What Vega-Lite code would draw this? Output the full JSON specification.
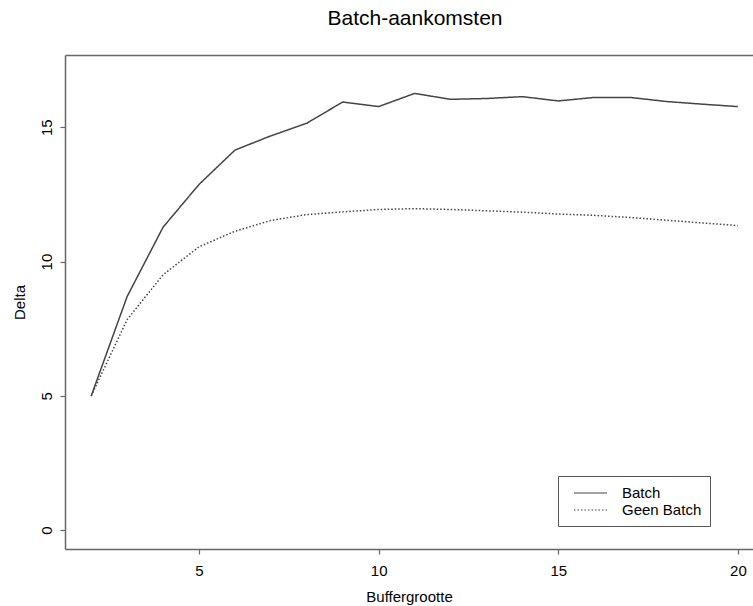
{
  "$schema": "https://vega.github.io/schema/vega-lite/v6.json",
  "autosize": {"type": "none"},
  "padding": {"left": 65, "top": 55, "right": 0, "bottom": 57},
  "width": 688,
  "height": 494,
  "background": "white",
  "config": {
    "font": "Liberation Sans",
    "view": {"stroke": null},
    "axis": {"grid": false, "domainColor": "#666", "domainWidth": 1.5, "tickColor": "#666", "tickWidth": 1.2, "tickSize": 5, "labelColor": "#000", "titleColor": "#000", "labelFont": "Liberation Sans", "titleFont": "Liberation Sans", "labelFontSize": 15, "titleFontSize": 15, "titleFontWeight": "normal"}
  },
  "title": {"text": "Batch-aankomsten", "fontSize": 21, "fontWeight": "normal", "color": "#000", "font": "Liberation Sans", "anchor": "middle", "baseline": "alphabetic", "offset": 9, "dx": 6},
  "data": {"values": [
    {"x": 2, "delta": 5.0, "serie": "Batch"},
    {"x": 3, "delta": 8.7, "serie": "Batch"},
    {"x": 4, "delta": 11.28, "serie": "Batch"},
    {"x": 5, "delta": 12.87, "serie": "Batch"},
    {"x": 6, "delta": 14.15, "serie": "Batch"},
    {"x": 7, "delta": 14.68, "serie": "Batch"},
    {"x": 8, "delta": 15.15, "serie": "Batch"},
    {"x": 9, "delta": 15.94, "serie": "Batch"},
    {"x": 10, "delta": 15.77, "serie": "Batch"},
    {"x": 11, "delta": 16.26, "serie": "Batch"},
    {"x": 12, "delta": 16.04, "serie": "Batch"},
    {"x": 13, "delta": 16.07, "serie": "Batch"},
    {"x": 14, "delta": 16.14, "serie": "Batch"},
    {"x": 15, "delta": 15.98, "serie": "Batch"},
    {"x": 16, "delta": 16.11, "serie": "Batch"},
    {"x": 17, "delta": 16.11, "serie": "Batch"},
    {"x": 18, "delta": 15.96, "serie": "Batch"},
    {"x": 19, "delta": 15.86, "serie": "Batch"},
    {"x": 20, "delta": 15.77, "serie": "Batch"},
    {"x": 2, "delta": 5.0, "serie": "Geen Batch"},
    {"x": 3, "delta": 7.84, "serie": "Geen Batch"},
    {"x": 4, "delta": 9.51, "serie": "Geen Batch"},
    {"x": 5, "delta": 10.55, "serie": "Geen Batch"},
    {"x": 6, "delta": 11.13, "serie": "Geen Batch"},
    {"x": 7, "delta": 11.53, "serie": "Geen Batch"},
    {"x": 8, "delta": 11.75, "serie": "Geen Batch"},
    {"x": 9, "delta": 11.85, "serie": "Geen Batch"},
    {"x": 10, "delta": 11.94, "serie": "Geen Batch"},
    {"x": 11, "delta": 11.97, "serie": "Geen Batch"},
    {"x": 12, "delta": 11.94, "serie": "Geen Batch"},
    {"x": 13, "delta": 11.89, "serie": "Geen Batch"},
    {"x": 14, "delta": 11.84, "serie": "Geen Batch"},
    {"x": 15, "delta": 11.77, "serie": "Geen Batch"},
    {"x": 16, "delta": 11.72, "serie": "Geen Batch"},
    {"x": 17, "delta": 11.64, "serie": "Geen Batch"},
    {"x": 18, "delta": 11.54, "serie": "Geen Batch"},
    {"x": 19, "delta": 11.44, "serie": "Geen Batch"},
    {"x": 20, "delta": 11.34, "serie": "Geen Batch"}
  ]},
  "layer": [
    {
      "mark": {"type": "line", "strokeWidth": 1.5},
      "encoding": {
        "x": {"field": "x", "type": "quantitative", "scale": {"domain": [1.27, 20.42], "nice": false, "zero": false},
              "axis": {"orient": "bottom", "values": [5, 10, 15, 20], "title": "Buffergrootte", "labelPadding": 9, "titleY": 52.5, "titleBaseline": "alphabetic"}},
        "y": {"field": "delta", "type": "quantitative", "scale": {"domain": [-0.7, 17.69], "nice": false, "zero": false},
              "axis": {"values": [0, 5, 10, 15], "title": "Delta", "labelAngle": -90, "labelAlign": "center", "labelBaseline": "alphabetic", "labelPadding": 9, "titleX": -41, "titleY": 247, "titleAngle": -90, "titleBaseline": "alphabetic", "titleAlign": "center"}},
        "color": {"field": "serie", "type": "nominal", "scale": {"range": ["#444", "#444"]},
                  "legend": {"title": null, "orient": "none", "legendX": 493, "legendY": 421, "symbolType": "M-0.125,0H4", "symbolSize": 256, "symbolStrokeWidth": 1.2, "labelFontSize": 15, "labelFont": "Liberation Sans", "labelColor": "#000", "labelOffset": 38, "padding": 8, "rowPadding": -2, "strokeColor": "#555", "fillColor": "white", "cornerRadius": 0}},
        "strokeDash": {"field": "serie", "type": "nominal", "scale": {"range": [[1, 0], [1.5, 2]]}}
      }
    },
    {
      "mark": {"type": "line", "opacity": 0},
      "encoding": {
        "x": {"field": "x", "type": "quantitative", "axis": {"orient": "top", "labels": false, "ticks": false, "title": null}},
        "y": {"field": "delta", "type": "quantitative"},
        "detail": {"field": "serie"}
      }
    }
  ],
  "resolve": {"axis": {"x": "independent"}}
}
